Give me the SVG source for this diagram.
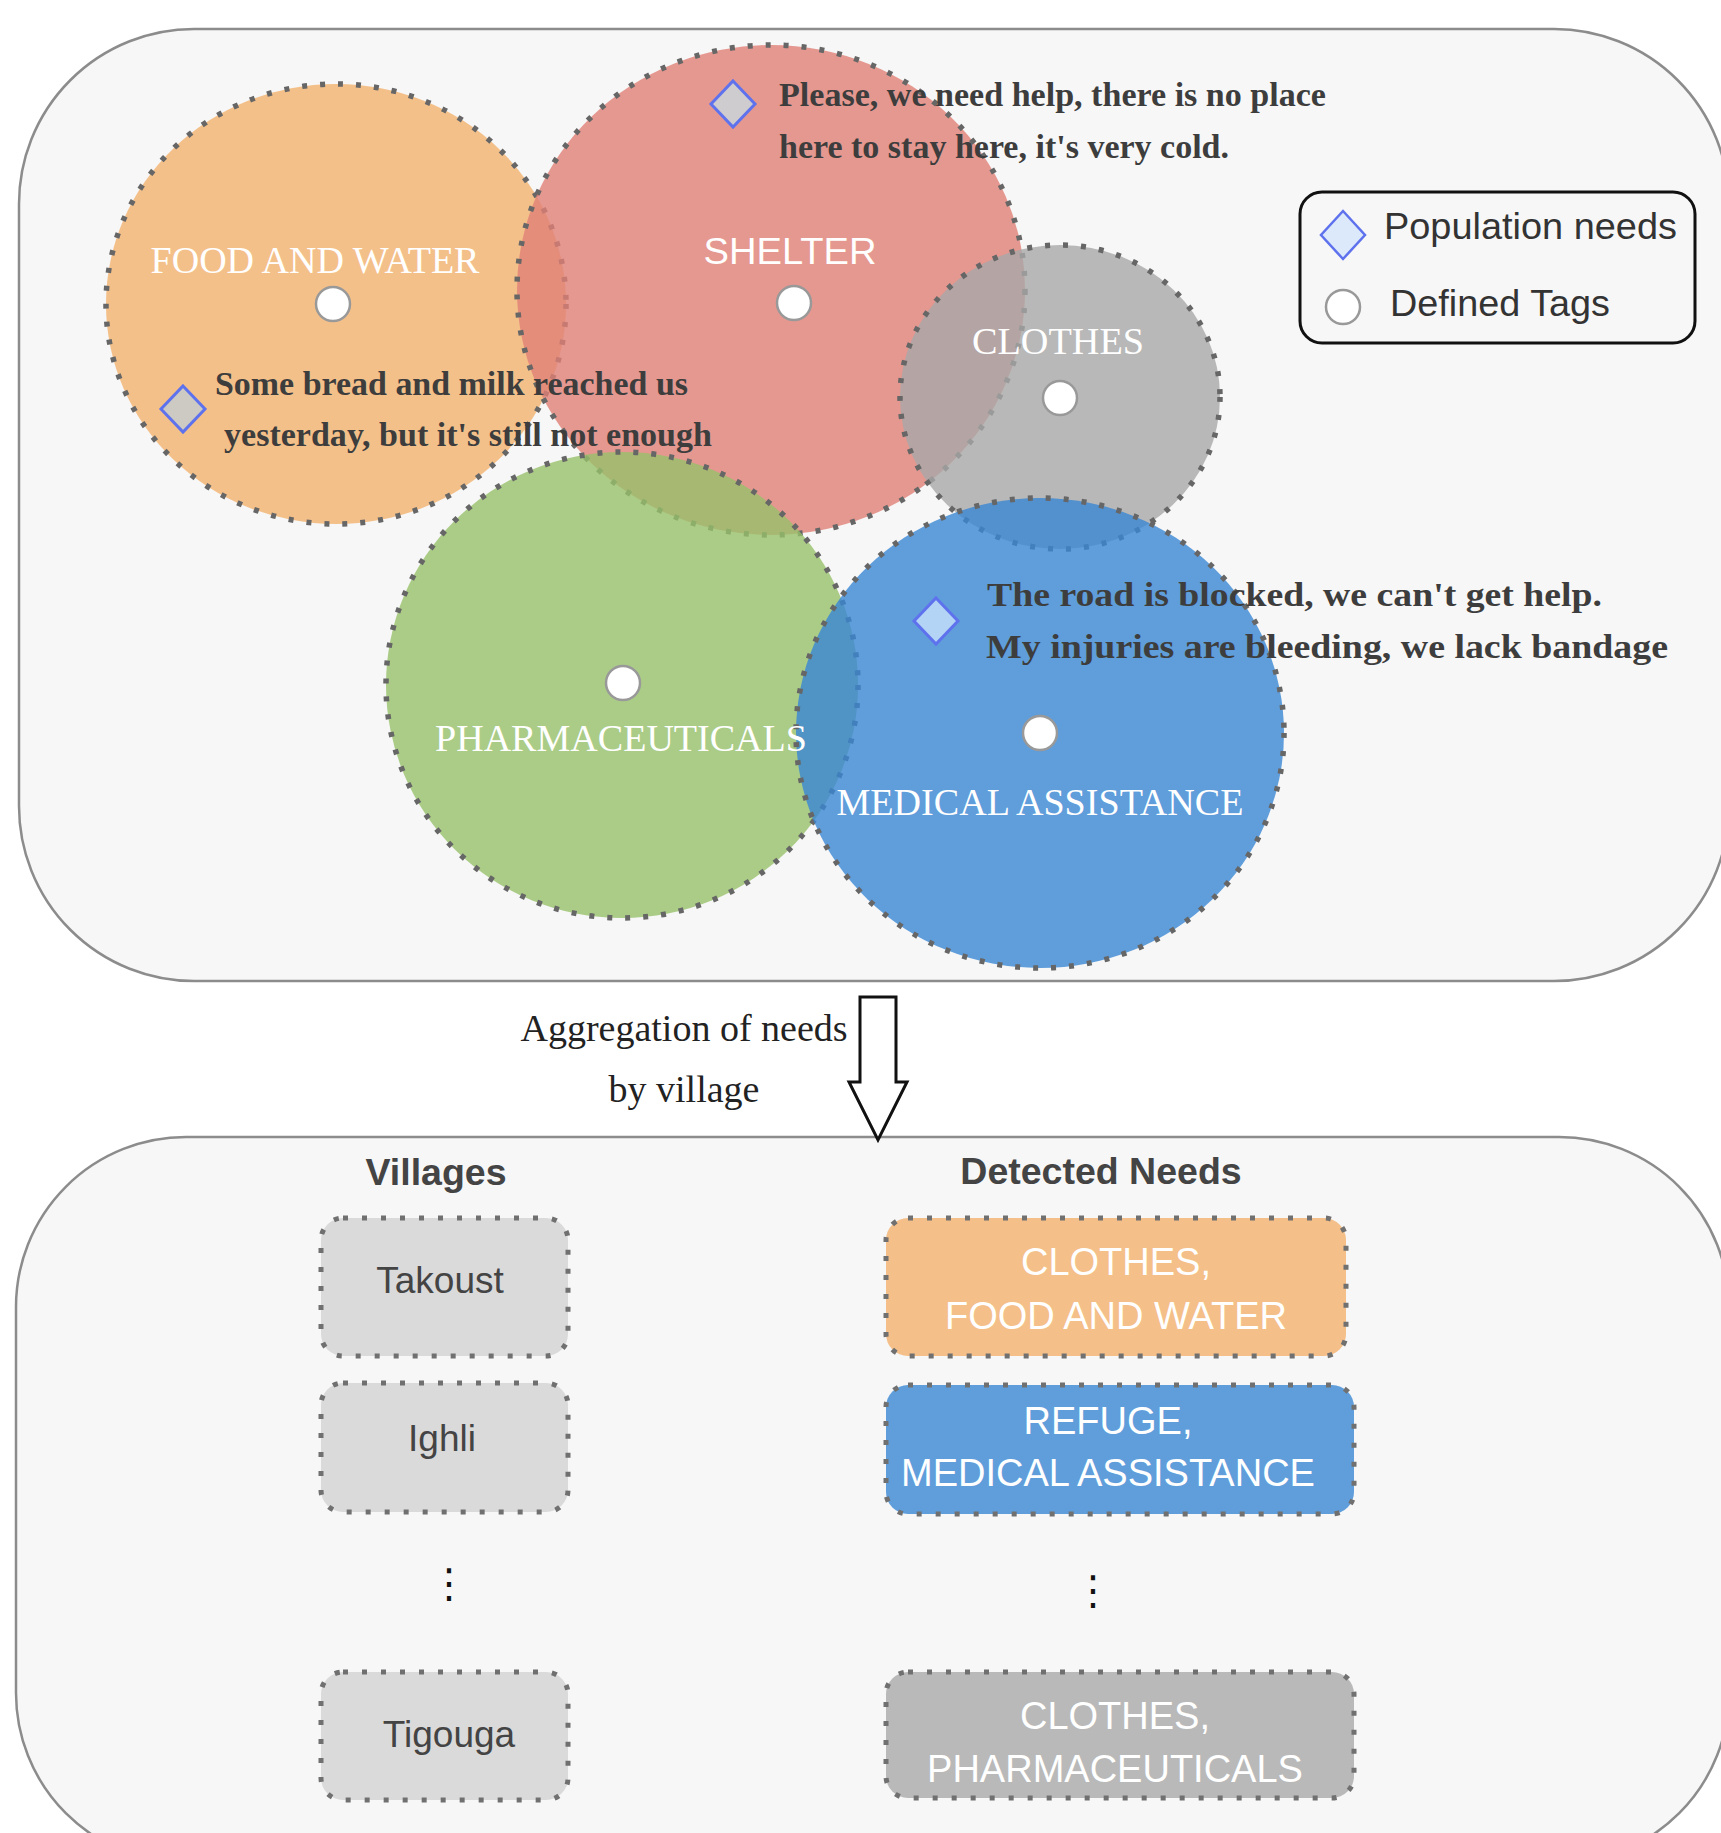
<svg xmlns="http://www.w3.org/2000/svg" width="1721" height="1833" viewBox="0 0 1721 1833">
<style>
.cont{fill:#F7F7F7;stroke:#8C8C8C;stroke-width:2.5}
.zone{stroke:#666666;stroke-width:5.5;stroke-dasharray:5 13;fill-opacity:0.8}
.tag{fill:#FFFFFF;stroke:#999999;stroke-width:2.5}
.need{stroke:#707070;stroke-width:5;stroke-dasharray:5 14}
.pop{stroke:#5F72EE;stroke-width:3}
.lbl{font-family:"Liberation Serif",serif;font-size:37px;fill:#FFFFFF;text-anchor:middle}
.quote{font-family:"Liberation Serif",serif;font-weight:bold;font-size:34px;fill:#3D3D3D}
.sans{font-family:"Liberation Sans",Arial,sans-serif}
.boxt{font-family:"Liberation Sans",Arial,sans-serif;font-size:38px;fill:#FFFFFF;text-anchor:middle}
.vt{font-family:"Liberation Sans",Arial,sans-serif;font-size:37px;fill:#444444;text-anchor:middle}
.hdr{font-family:"Liberation Sans",Arial,sans-serif;font-size:37.5px;font-weight:bold;fill:#444444;text-anchor:middle}
.dots{font-family:"DejaVu Sans",sans-serif;font-size:40px;fill:#111111;text-anchor:middle}
</style>
<rect x="0" y="0" width="1721" height="1833" fill="#FFFFFF"/>

<g id="top-panel">
<rect class="cont" x="19" y="29" width="1710" height="952" rx="175" ry="175"/>
</g>
<g id="bottom-panel">
<rect class="cont" x="16" y="1137" width="1713" height="726" rx="170" ry="170"/>
</g>

<g id="food-and-water">
<ellipse class="zone" cx="336" cy="304" rx="230" ry="220" fill="#F2B16E"/>
</g>
<g id="shelter">
<ellipse class="zone" cx="771" cy="290" rx="254" ry="245" fill="#E08076"/>
</g>
<g id="clothes">
<ellipse class="zone" cx="1060" cy="397" rx="160" ry="152" fill="#A8A8A8"/>
</g>
<g id="pharmaceuticals">
<ellipse class="zone" cx="622" cy="685" rx="236" ry="233" fill="#97C06A"/>
</g>
<g id="medical-assistance">
<ellipse class="zone" cx="1040" cy="733" rx="244" ry="235" fill="#3886D3"/>
</g>

<g id="labels">
<text class="lbl" x="315" y="273" textLength="329" lengthAdjust="spacingAndGlyphs">FOOD AND WATER</text>
<text class="sans" x="790" y="264" font-size="37" fill="#FFFFFF" text-anchor="middle" textLength="173" lengthAdjust="spacingAndGlyphs">SHELTER</text>
<text class="lbl" x="1058" y="354" textLength="172" lengthAdjust="spacingAndGlyphs">CLOTHES</text>
<text class="lbl" x="621" y="751" textLength="372" lengthAdjust="spacingAndGlyphs">PHARMACEUTICALS</text>
<text class="lbl" x="1040" y="815" textLength="407" lengthAdjust="spacingAndGlyphs">MEDICAL ASSISTANCE</text>
</g>

<g id="tags">
<circle class="tag" cx="333" cy="304" r="17"/>
<circle class="tag" cx="794" cy="303" r="17"/>
<circle class="tag" cx="1060" cy="398" r="17"/>
<circle class="tag" cx="623" cy="683" r="17"/>
<circle class="tag" cx="1040" cy="733" r="17"/>
</g>

<g id="need-shelter">
<polygon class="pop" points="733,81 755,104 733,127 711,104" fill="#CFCCCF"/>
<text class="quote" x="779" y="106" textLength="547" lengthAdjust="spacingAndGlyphs">Please, we need help, there is no place</text>
<text class="quote" x="779" y="158" textLength="450" lengthAdjust="spacingAndGlyphs">here to stay here, it's very cold.</text>
</g>
<g id="need-food">
<polygon class="pop" points="183,386 205,409 183,432 161,409" fill="#CCCAC3"/>
<text class="quote" x="215" y="395" textLength="473" lengthAdjust="spacingAndGlyphs">Some bread and milk reached us</text>
<text class="quote" x="224" y="446" textLength="488" lengthAdjust="spacingAndGlyphs">yesterday, but it's still not enough</text>
</g>
<g id="need-medical">
<polygon class="pop" points="936,598 958,621 936,644 914,621" fill="#B3D4F5"/>
<text class="quote" x="987" y="606" textLength="615" lengthAdjust="spacingAndGlyphs">The road is blocked, we can't get help.</text>
<text class="quote" x="986" y="658" textLength="682" lengthAdjust="spacingAndGlyphs">My injuries are bleeding, we lack bandage</text>
</g>

<g id="legend">
<rect x="1300" y="192" width="395" height="151" rx="22" ry="22" fill="#F7F7F7" stroke="#111111" stroke-width="3"/>
<polygon points="1343,211 1365,235 1343,259 1321,235" fill="#DCE9FB" stroke="#5F72EE" stroke-width="2.5"/>
<text class="sans" x="1384" y="239" font-size="37" fill="#333333" textLength="293" lengthAdjust="spacingAndGlyphs">Population needs</text>
<circle cx="1343" cy="307" r="17" fill="#FFFFFF" stroke="#999999" stroke-width="2.5"/>
<text class="sans" x="1390" y="316" font-size="37" fill="#333333" textLength="220" lengthAdjust="spacingAndGlyphs">Defined Tags</text>
</g>

<g id="connectors">
<path d="M 860 997 L 896 997 L 896 1082 L 907 1082 L 878 1140 L 849 1082 L 860 1082 Z" fill="#FFFFFF" stroke="#111111" stroke-width="3" stroke-linejoin="miter"/>
<text x="684" y="1041" font-family="Liberation Serif, serif" font-size="38" fill="#222222" text-anchor="middle">Aggregation of needs</text>
<text x="684" y="1102" font-family="Liberation Serif, serif" font-size="38" fill="#222222" text-anchor="middle">by village</text>
</g>

<g id="villages">
<text class="hdr" x="436" y="1185">Villages</text>
<g id="takoust">
<rect class="need" x="321" y="1218" width="247" height="138" rx="22" ry="22" fill="#DADADA"/>
<text class="vt" x="440" y="1293">Takoust</text>
</g>
<g id="ighli">
<rect class="need" x="321" y="1383" width="247" height="129" rx="22" ry="22" fill="#DADADA"/>
<text class="vt" x="442" y="1451">Ighli</text>
</g>
<text class="dots" x="449" y="1597">⋮</text>
<g id="tigouga">
<rect class="need" x="321" y="1672" width="247" height="128" rx="22" ry="22" fill="#DADADA"/>
<text class="vt" x="449" y="1747">Tigouga</text>
</g>
</g>

<g id="detected-needs">
<text class="hdr" x="1101" y="1184">Detected Needs</text>
<g id="needs-takoust">
<rect class="need" x="886" y="1218" width="460" height="138" rx="22" ry="22" fill="#F4BF88"/>
<text class="boxt" x="1116" y="1275">CLOTHES,</text>
<text class="boxt" x="1116" y="1329">FOOD AND WATER</text>
</g>
<g id="needs-ighli">
<rect class="need" x="886" y="1385" width="468" height="129" rx="22" ry="22" fill="#5F9EDB"/>
<text class="boxt" x="1108" y="1434">REFUGE,</text>
<text class="boxt" x="1108" y="1486">MEDICAL ASSISTANCE</text>
</g>
<text class="dots" x="1093" y="1604">⋮</text>
<g id="needs-tigouga">
<rect class="need" x="886" y="1672" width="468" height="126" rx="22" ry="22" fill="#B9B9B9"/>
<text class="boxt" x="1115" y="1729">CLOTHES,</text>
<text class="boxt" x="1115" y="1782">PHARMACEUTICALS</text>
</g>
</g>
</svg>
